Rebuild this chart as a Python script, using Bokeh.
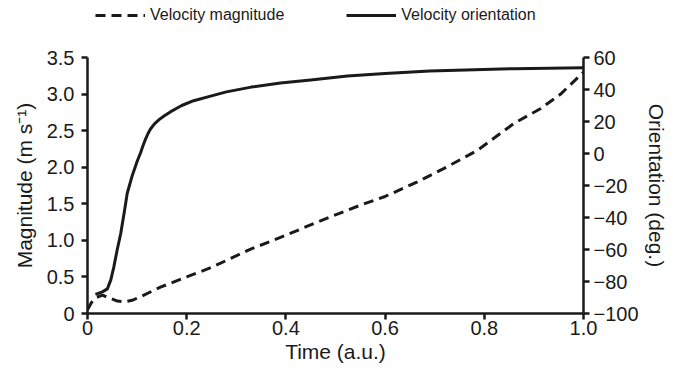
from bokeh.plotting import figure
from bokeh.layouts import column
from bokeh.models import (LinearAxis, Range1d, FixedTicker, Legend, LegendItem)
from bokeh.embed import file_html
from bokeh.resources import INLINE

# ---- data ----
mag_time = [0, 0.008, 0.018, 0.03, 0.045, 0.06, 0.075, 0.09, 0.11, 0.147, 0.2, 0.25,
            0.329, 0.4, 0.463, 0.55, 0.6, 0.665, 0.718, 0.786, 0.86, 0.913, 0.954, 1.0]
magnitude = [0.05, 0.15, 0.22, 0.25, 0.21, 0.17, 0.16, 0.18, 0.24, 0.36, 0.5, 0.63,
             0.88, 1.07, 1.25, 1.48, 1.6, 1.8, 1.98, 2.23, 2.6, 2.8, 3.0, 3.3]

ori_time = [0.016, 0.03, 0.04, 0.047, 0.053, 0.06, 0.067, 0.075, 0.08, 0.09, 0.1, 0.107,
            0.112, 0.117, 0.122, 0.127, 0.135, 0.145, 0.155, 0.167, 0.18, 0.19, 0.214,
            0.25, 0.28, 0.33, 0.389, 0.45, 0.524, 0.6, 0.69, 0.78, 0.86, 0.93, 1.0]
orientation = [-88, -86.5, -84.6, -79, -71, -60, -50, -35, -25, -14, -5, 0.5,
               5, 9, 12.5, 15.3, 18.5, 21.3, 23.6, 26, 28.3, 30, 33,
               36, 38.5, 41.5, 44, 46, 48.5, 50, 51.5, 52.4, 53, 53.3, 53.6]

x_ticks = [0, 0.2, 0.4, 0.6, 0.8, 1.0]
mag_ticks = [0, 0.5, 1.0, 1.5, 2.0, 2.5, 3.0, 3.5]
deg_ticks = [-100, -80, -60, -40, -20, 0, 20, 40, 60]
series_names = ["Velocity magnitude", "Velocity orientation"]

FONT = "Liberation Sans"
INK = "#1a1a1a"
DASH = "10 6"

# ---- main chart ----
p = figure(width=670, height=339, output_backend="svg", toolbar_location=None,
           x_range=Range1d(0, 1.0), y_range=Range1d(0, 3.5),
           min_border_left=87, min_border_right=87, min_border_top=21,
           min_border_bottom=62)
p.extra_y_ranges = {"deg": Range1d(-100, 60)}
p.outline_line_color = None
p.xgrid.visible = False
p.ygrid.visible = False

p.line(mag_time, magnitude, line_color=INK, line_width=3, line_dash=DASH)
p.line(ori_time, orientation, line_color=INK, line_width=3, y_range_name="deg",
       line_join="round")

def style_axis(ax):
    ax.axis_line_color = INK
    ax.axis_line_width = 2.5
    ax.major_tick_line_color = INK
    ax.major_tick_line_width = 2.5
    ax.major_tick_out = 6
    ax.major_tick_in = 0
    ax.minor_tick_out = 0
    ax.minor_tick_in = 0
    ax.major_label_text_font = FONT
    ax.major_label_text_font_size = "20px"
    ax.major_label_text_color = INK
    ax.axis_label_text_font = FONT
    ax.axis_label_text_font_size = "21px"
    ax.axis_label_text_font_style = "normal"
    ax.axis_label_text_color = INK

xa = p.xaxis[0]
style_axis(xa)
xa.ticker = FixedTicker(ticks=x_ticks)
xa.major_label_overrides = {t: ("0" if t == 0 else f"{t:.1f}") for t in x_ticks}
xa.axis_label = "Time (a.u.)"
xa.major_label_standoff = 1
xa.axis_label_standoff = 2

ya = p.yaxis[0]
style_axis(ya)
ya.ticker = FixedTicker(ticks=mag_ticks)
ya.major_label_overrides = {t: ("0" if t == 0 else f"{t:.1f}") for t in mag_ticks}
ya.axis_label = "Magnitude (m s\u207b\u00b9)"
ya.major_label_standoff = 7
ya.axis_label_standoff = 8

ra = LinearAxis(y_range_name="deg", axis_label="Orientation (deg.)")
style_axis(ra)
ra.ticker = FixedTicker(ticks=deg_ticks)
ra.major_label_overrides = {t: str(t).replace("-", "\u2212") for t in deg_ticks}
ra.major_label_standoff = 4
ra.axis_label_standoff = 3
p.add_layout(ra, "right")

# ---- legend strip above the chart (its frame aligns with the chart frame) ----
# the series are drawn here too, but outside the strip's visible range, so only
# the legend shows
pl = figure(width=670, height=36, output_backend="svg", toolbar_location=None,
            x_range=Range1d(0, 1), y_range=Range1d(100, 101),
            x_axis_location=None, y_axis_location=None,
            min_border_left=0, min_border_right=0, min_border_top=0,
            min_border_bottom=0)
pl.outline_line_color = None
pl.xgrid.visible = False
pl.ygrid.visible = False
lr_mag = pl.line(mag_time, magnitude, line_color=INK, line_width=3, line_dash=DASH)
lr_ori = pl.line(ori_time, orientation, line_color=INK, line_width=3)

legend = Legend(items=[LegendItem(label=series_names[0], renderers=[lr_mag]),
                       LegendItem(label=series_names[1], renderers=[lr_ori])],
                orientation="horizontal", location=(8, 12),
                padding=0, margin=0, spacing=62,
                glyph_width=50, glyph_height=16, label_height=16,
                label_standoff=5,
                label_text_font=FONT, label_text_font_size="16px",
                label_text_color=INK,
                border_line_color=None, background_fill_alpha=0)
pl.add_layout(legend, "center")

layout = column(pl, p, spacing=0)
open("out.html", "w").write(file_html(layout, INLINE))
